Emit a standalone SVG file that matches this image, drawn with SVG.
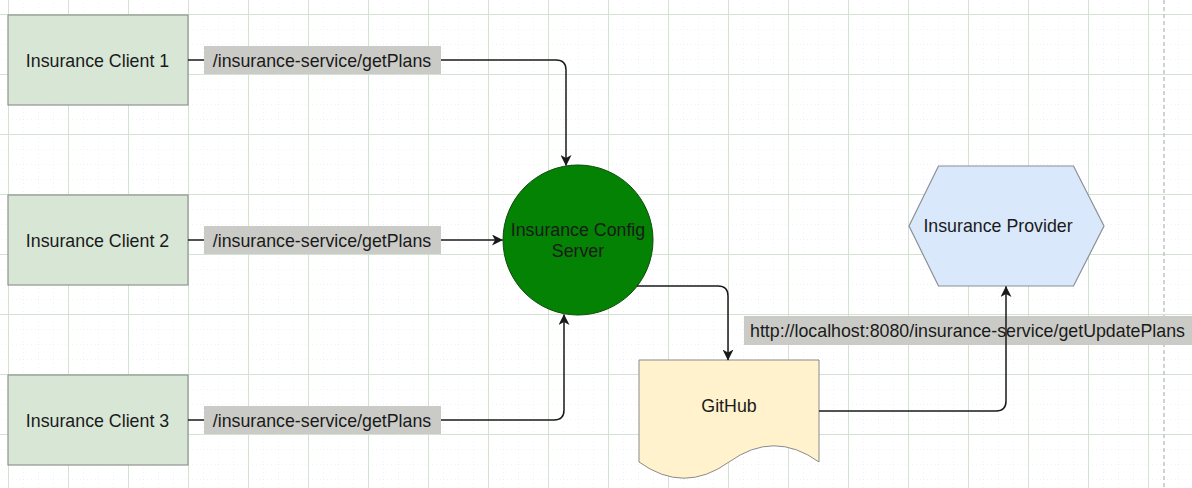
<svg xmlns="http://www.w3.org/2000/svg" width="1192" height="488" viewBox="0 0 1192 488">
  <defs>
    <pattern id="minor" x="8" y="14" width="15" height="15" patternUnits="userSpaceOnUse">
      <path d="M0,0 V15 M0,0 H15" fill="none" stroke="#dfe6ef" stroke-width="1" stroke-dasharray="1 3"/>
    </pattern>
    <pattern id="major" x="8" y="14" width="60" height="60" patternUnits="userSpaceOnUse">
      <path d="M0.5,0 V60 M0,0.5 H60" fill="none" stroke="#d3e2d2" stroke-width="1"/>
    </pattern>
    <marker id="arrow" viewBox="0 0 11 11" refX="10.5" refY="5.5" markerWidth="11" markerHeight="11" markerUnits="userSpaceOnUse" orient="auto">
      <path d="M0,0 L11,5.5 L0,11 L3,5.5 Z" fill="#1a1a1a"/>
    </marker>
  </defs>
  <style>
    .t { font-family: "Liberation Sans", Arial, sans-serif; font-size: 17.8px; fill: #1a1a1a; }
    .client { fill: #d8e6d6; stroke: #8f948e; stroke-width: 1.2; }
    .lbl { fill: #cacbc6; }
    .edge { fill: none; stroke: #1a1a1a; stroke-width: 1.5; }
  </style>
  <rect width="1192" height="488" fill="#ffffff"/>
  <rect width="1192" height="488" fill="url(#minor)"/>
  <rect width="1192" height="488" fill="url(#major)"/>
  <line x1="1164" y1="0" x2="1164" y2="488" stroke="#c4c4c4" stroke-width="1.5" stroke-dasharray="4 3"/>

  <g id="client1">
    <rect class="client" x="8" y="15" width="180" height="90"/>
    <text class="t" x="97.5" y="66.5" text-anchor="middle">Insurance Client 1</text>
  </g>
  <g id="client2">
    <rect class="client" x="8" y="195" width="180" height="90"/>
    <text class="t" x="97.5" y="246.5" text-anchor="middle">Insurance Client 2</text>
  </g>
  <g id="client3">
    <rect class="client" x="8" y="375" width="180" height="90"/>
    <text class="t" x="97.5" y="426.5" text-anchor="middle">Insurance Client 3</text>
  </g>
  <g id="config-server">
    <circle cx="578" cy="240" r="75" fill="#038203" stroke="#0b4d0b" stroke-width="1"/>
    <text class="t" x="578" y="236" text-anchor="middle">Insurance Config</text>
    <text class="t" x="578" y="257" text-anchor="middle">Server</text>
  </g>
  <g id="github">
    <path d="M639,360 H819 V462 Q774,429.6 729,462 Q684,494.4 639,462 Z" fill="#fff2cc" stroke="#8a8a8a" stroke-width="1"/>
    <text class="t" x="729" y="411.5" text-anchor="middle">GitHub</text>
  </g>
  <g id="provider">
    <polygon points="909,226 938.5,166 1073.5,166 1104,226 1073.5,286 938.5,286" fill="#dae8fc" stroke="#8a8f96" stroke-width="1.2"/>
    <text class="t" x="998" y="232" text-anchor="middle">Insurance Provider</text>
  </g>

  <g id="label-url">
    <rect class="lbl" x="744" y="316" width="448" height="29"/>
    <text class="t" x="967.5" y="337" text-anchor="middle">http://localhost:8080/insurance-service/getUpdatePlans</text>
  </g>

  <g id="connectors">
    <path class="edge" d="M188,60 H556 Q566,60 566,70 V165.5" marker-end="url(#arrow)"/>
    <path class="edge" d="M188,240 H502.5" marker-end="url(#arrow)"/>
    <path class="edge" d="M188,420 H554 Q564,420 564,410 V314.5" marker-end="url(#arrow)"/>
    <path class="edge" d="M637,286 H718 Q728,286 728,296 V360" marker-end="url(#arrow)"/>
    <path class="edge" d="M819,411 H996 Q1006,411 1006,401 V286.5" marker-end="url(#arrow)"/>
  </g>

  <g id="label-client1">
    <rect class="lbl" x="204" y="46" width="237" height="28"/>
    <text class="t" x="322" y="66.5" text-anchor="middle">/insurance-service/getPlans</text>
  </g>
  <g id="label-client2">
    <rect class="lbl" x="204" y="226" width="237" height="28"/>
    <text class="t" x="322" y="246.5" text-anchor="middle">/insurance-service/getPlans</text>
  </g>
  <g id="label-client3">
    <rect class="lbl" x="204" y="406" width="237" height="28"/>
    <text class="t" x="322" y="426.5" text-anchor="middle">/insurance-service/getPlans</text>
  </g>
</svg>
